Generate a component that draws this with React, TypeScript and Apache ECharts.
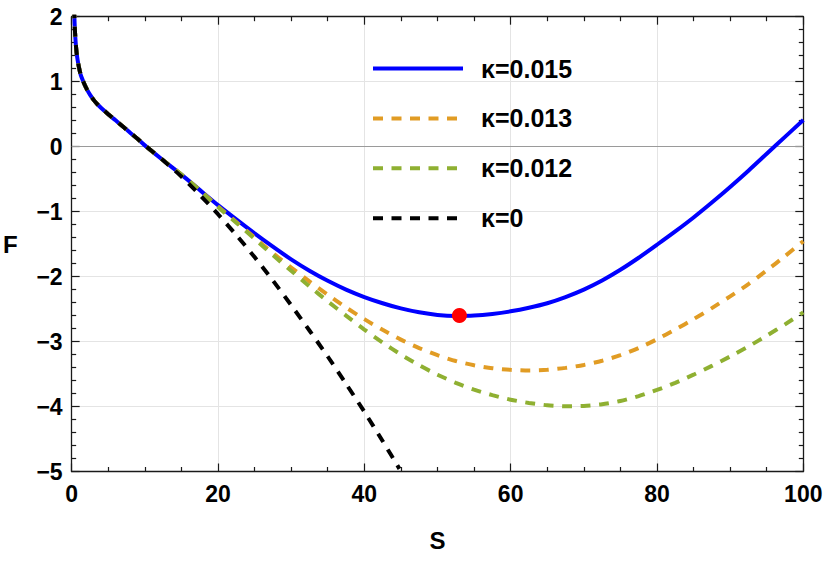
import React, { useEffect, useRef } from 'react';
import * as echarts from 'echarts';

// shared steep part (all curves coincide for S < 10)
const headS = [0.33, 0.37, 0.45, 0.55, 0.68, 0.82, 1.0, 1.25, 1.6, 2.0, 2.5, 3.0, 3.5, 4.0, 5.0, 6.0, 7.0, 8.0, 9.0];
const headF = [2.13, 2.0, 1.78, 1.6, 1.44, 1.33, 1.22, 1.1, 1.0, 0.9, 0.8, 0.72, 0.655, 0.6, 0.5, 0.405, 0.31, 0.215, 0.12];

const tailS = [
  10, 12.5, 15, 17.5, 20, 22.5, 25, 27.5, 30, 32.5, 35, 37.5, 40, 42.5, 45, 47.5, 50, 52.5, 55,
  57.5, 60, 62.5, 65, 67.5, 70, 72.5, 75, 77.5, 80, 82.5, 85, 87.5, 90, 92.5, 95, 97.5, 100,
];

const fK015 = [
  0.02, -0.21, -0.43, -0.665, -0.9, -1.12, -1.335, -1.54, -1.735, -1.91, -2.065, -2.2, -2.315,
  -2.41, -2.49, -2.55, -2.59, -2.605, -2.6, -2.575, -2.535, -2.48, -2.41, -2.315, -2.2, -2.06,
  -1.895, -1.71, -1.51, -1.305, -1.09, -0.86, -0.62, -0.37, -0.11, 0.15, 0.41,
];
const fK013 = [
  0.02, -0.21, -0.43, -0.67, -0.92, -1.16, -1.4, -1.64, -1.86, -2.075, -2.28, -2.475, -2.655,
  -2.82, -2.97, -3.1, -3.21, -3.3, -3.365, -3.41, -3.435, -3.445, -3.435, -3.405, -3.36, -3.295,
  -3.21, -3.1, -2.965, -2.815, -2.655, -2.485, -2.305, -2.115, -1.905, -1.685, -1.455,
];
const fK012 = [
  0.02, -0.21, -0.43, -0.67, -0.93, -1.17, -1.42, -1.67, -1.91, -2.15, -2.38, -2.6, -2.815,
  -3.015, -3.2, -3.365, -3.51, -3.635, -3.74, -3.825, -3.895, -3.945, -3.98, -3.995, -3.99,
  -3.965, -3.915, -3.84, -3.745, -3.635, -3.51, -3.375, -3.23, -3.075, -2.91, -2.735, -2.55,
];
const blackS = [10, 12.5, 15, 17.5, 20, 22.5, 25, 27.5, 30, 32.5, 35, 37.5, 40, 42.5, 44.8];
const fK0 = [0.02, -0.21, -0.46, -0.74, -1.04, -1.36, -1.7, -2.06, -2.44, -2.83, -3.23, -3.65, -4.08, -4.53, -4.96];

const seriesNames = ['κ=0.015', 'κ=0.013', 'κ=0.012', 'κ=0'];
const criticalPoint = [53, -2.6];

const xTicks = { min: 0, max: 100, interval: 20 };
const yTicks = { min: -5, max: 2, interval: 1 };

const FONT = "'Liberation Sans', Arial, Helvetica, sans-serif";

function buildCurve(xs: number[], ys: number[]) {
  const head = headS.map((s, i) => [s, headF[i]]);
  const tail = xs.map((s, i) => [s, ys[i]]);
  return head.concat(tail);
}

const fmt = (v: number) => (v < 0 ? '\u2212' + Math.abs(v) : String(v));

export default function App() {
  const ref = useRef<HTMLDivElement>(null);
  useEffect(() => {
    document.body.style.margin = '0';
    if (!ref.current) return;
    const chart = echarts.init(ref.current, null, { renderer: 'svg' });
    const frame = { color: '#1a1a1a', width: 1.3 };
    const tickStyle = { color: '#1a1a1a', width: 1.2 };
    const baseX = {
      type: 'value',
      ...xTicks,
      axisLine: { show: true, onZero: false, lineStyle: frame },
      axisTick: { show: true, inside: true, length: 8, lineStyle: tickStyle },
      minorTick: { show: true, splitNumber: 4, length: 4.5, lineStyle: tickStyle },
    };
    const baseY = {
      type: 'value',
      ...yTicks,
      axisLine: { show: true, onZero: false, lineStyle: frame },
      axisTick: { show: true, inside: true, length: 8, lineStyle: tickStyle },
      minorTick: { show: true, splitNumber: 5, length: 4.5, lineStyle: tickStyle },
    };
    const dashed = [10, 8.5];
    const SMOOTH = 0.25;
    chart.setOption({
      animation: false,
      textStyle: { fontFamily: FONT },
      grid: { left: 69.5, right: 26.7, top: 16.7, bottom: 91.5, containLabel: false },
      legend: {
        orient: 'vertical',
        left: 371,
        top: 56,
        padding: 0,
        itemWidth: 90,
        itemHeight: 26,
        itemGap: 24.9,
        data: seriesNames,
        itemStyle: { opacity: 0 },
        lineStyle: { width: 4 },
        textStyle: {
          fontFamily: FONT,
          fontSize: 25,
          fontWeight: 'bold',
          color: '#000',
          padding: [0, 0, 0, 13],
        },
      },
      xAxis: [
        {
          ...baseX,
          position: 'bottom',
          name: 'S',
          nameLocation: 'middle',
          nameGap: 57,
          nameTextStyle: { fontFamily: FONT, fontSize: 24, fontWeight: 'bold', color: '#000' },
          axisLabel: {
            show: true,
            margin: 11,
            fontFamily: FONT,
            fontSize: 23,
            fontWeight: 'bold',
            color: '#000',
            formatter: fmt,
          },
          splitLine: { show: true, lineStyle: { color: '#e4e4e4', width: 1 } },
        },
        {
          ...baseX,
          position: 'top',
          axisLabel: { show: false },
          splitLine: { show: false },
        },
      ],
      yAxis: [
        {
          ...baseY,
          position: 'left',
          name: 'F',
          nameLocation: 'middle',
          nameRotate: 0,
          nameGap: 54,
          nameTextStyle: { fontFamily: FONT, fontSize: 24, fontWeight: 'bold', color: '#000' },
          axisLabel: {
            show: true,
            margin: 9,
            fontFamily: FONT,
            fontSize: 23,
            fontWeight: 'bold',
            color: '#000',
            formatter: fmt,
          },
          splitLine: { show: true, lineStyle: { color: '#e4e4e4', width: 1 } },
        },
        {
          ...baseY,
          position: 'right',
          axisLabel: { show: false },
          splitLine: { show: false },
        },
      ],
      series: [
        {
          name: seriesNames[0],
          type: 'line',
          data: buildCurve(tailS, fK015),
          symbol: 'none',
          smooth: SMOOTH,
          clip: true,
          color: '#0000ff',
          lineStyle: { color: '#0000ff', width: 4 },
          markLine: {
            silent: true,
            symbol: ['none', 'none'],
            label: { show: false },
            lineStyle: { color: '#9a9a9a', width: 1, type: 'solid' },
            data: [{ yAxis: 0 }],
            z: 1,
          },
          z: 2,
        },
        {
          name: seriesNames[1],
          type: 'line',
          data: buildCurve(tailS, fK013),
          symbol: 'none',
          smooth: SMOOTH,
          clip: true,
          color: '#e19c24',
          lineStyle: { color: '#e19c24', width: 4, type: dashed, cap: 'butt' },
          z: 3,
        },
        {
          name: seriesNames[2],
          type: 'line',
          data: buildCurve(tailS, fK012),
          symbol: 'none',
          smooth: SMOOTH,
          clip: true,
          color: '#8fb032',
          lineStyle: { color: '#8fb032', width: 4, type: dashed, cap: 'butt' },
          z: 4,
        },
        {
          name: seriesNames[3],
          type: 'line',
          data: buildCurve(blackS, fK0),
          symbol: 'none',
          smooth: SMOOTH,
          clip: true,
          color: '#000000',
          lineStyle: { color: '#000000', width: 4, type: dashed, cap: 'butt' },
          z: 5,
        },
        {
          name: 'critical',
          type: 'scatter',
          data: [criticalPoint],
          symbol: 'circle',
          symbolSize: 15,
          itemStyle: { color: '#ff0000', opacity: 1 },
          z: 10,
        },
      ],
    });
    return () => chart.dispose();
  }, []);
  return <div ref={ref} style={{ width: 830, height: 563 }} />;
}
